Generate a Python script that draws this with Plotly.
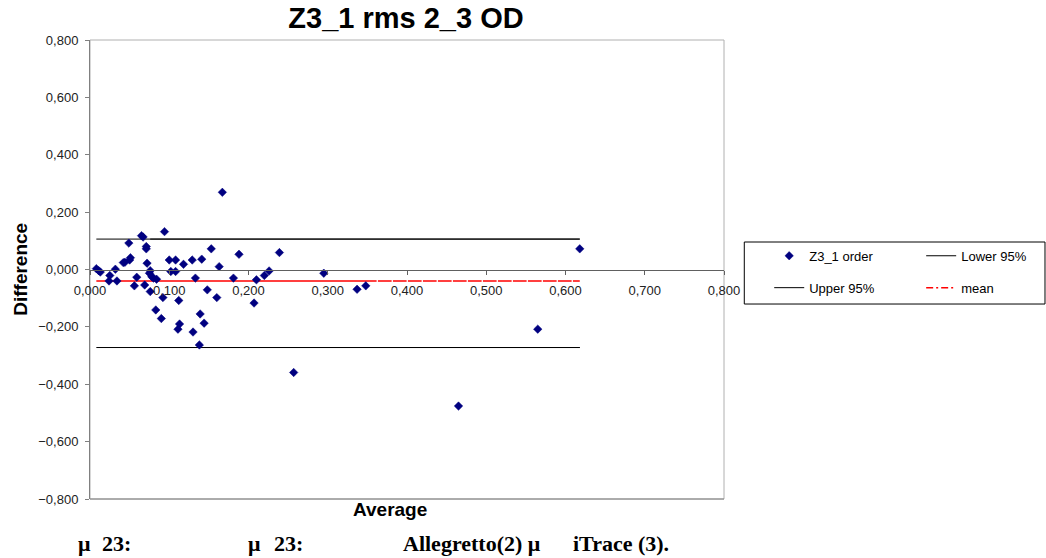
import plotly.graph_objects as go

# Bland-Altman data: mean of the two measurements vs their difference
average = [
    0.008, 0.042, 0.167, 0.011, 0.094, 0.065, 0.295, 0.024, 0.113, 0.049,
    0.013, 0.188, 0.071, 0.130, 0.465, 0.618, 0.565, 0.056, 0.102, 0.025,
    0.139, 0.032, 0.207, 0.076, 0.148, 0.337, 0.034, 0.160, 0.044, 0.092,
    0.111, 0.257, 0.050, 0.181, 0.067, 0.072, 0.129, 0.051, 0.138, 0.059,
    0.220, 0.069, 0.083, 0.348, 0.071, 0.108, 0.075, 0.226, 0.153, 0.078,
    0.090, 0.144, 0.080, 0.239, 0.084, 0.100, 0.133, 0.108, 0.210, 0.112,
    0.118, 0.141, 0.163, 0.076,
]
difference = [
    0.003, 0.024, 0.269, -0.004, 0.132, 0.118, -0.013, -0.040, -0.190, 0.092,
    -0.009, 0.053, 0.080, -0.218, -0.476, 0.072, -0.208, -0.057, -0.007, -0.021,
    -0.155, 0.001, -0.117, -0.077, -0.071, -0.069, -0.040, -0.098, 0.025, -0.098,
    -0.208, -0.359, 0.033, -0.030, 0.113, 0.022, 0.033, 0.041, -0.263, -0.027,
    -0.021, -0.054, -0.141, -0.057, 0.072, 0.033, -0.013, -0.005, 0.072, -0.025,
    -0.171, -0.187, -0.030, 0.059, -0.034, 0.033, -0.030, -0.007, -0.036, -0.108,
    0.018, 0.036, 0.010, -0.004,
]

MEAN_DIFF = -0.040
UPPER_95 = 0.106
LOWER_95 = -0.272

x_ticks = [0.0, 0.1, 0.2, 0.3, 0.4, 0.5, 0.6, 0.7, 0.8]
y_ticks = [-0.8, -0.6, -0.4, -0.2, 0.0, 0.2, 0.4, 0.6, 0.8]

# Reference lines follow the series' own x values, as in a spreadsheet chart
mean_y = [MEAN_DIFF for _ in average]
upper_y = [UPPER_95 for _ in average]
lower_y = [LOWER_95 for _ in average]

SANS = "Liberation Sans, Arial, sans-serif"
SERIF = "Liberation Serif, Times New Roman, serif"

fig = go.Figure()

fig.add_trace(go.Scatter(
    x=average, y=lower_y, mode="lines", name="Lower 95%",
    line=dict(color="black", width=1),
    legend="legend2", legendgroup="lower", legendrank=1,
))
fig.add_trace(go.Scatter(
    x=average, y=upper_y, mode="lines", name="Upper 95%",
    line=dict(color="black", width=1),
    legend="legend", legendgroup="upper", legendrank=2,
))
fig.add_trace(go.Scatter(
    x=average, y=mean_y, mode="lines", name="mean",
    line=dict(color="#ff0000", width=1.5, dash="7px,3px,2px,3px", simplify=False),
    legend="legend2", legendgroup="mean", legendrank=2,
))
fig.add_trace(go.Scatter(
    x=average, y=difference, mode="markers", name="Z3_1 order",
    marker=dict(symbol="diamond", size=6.5, color="#000080",
                line=dict(width=0.5, color="#000080")),
    legend="legend", legendgroup="pts", legendrank=1,
))

# Plot-area frame
fig.add_shape(type="rect", xref="paper", yref="paper", x0=0, y0=0, x1=1, y1=1,
              line=dict(color="#b0b0b0", width=1), layer="below")
fig.add_shape(type="line", xref="paper", yref="paper", x0=0, y0=0, x1=1, y1=0,
              line=dict(color="#808080", width=1))
# Legend box
fig.add_shape(type="rect", xref="paper", yref="paper",
              x0=1.032, y0=0.4248, x1=1.5063, y1=0.5599,
              line=dict(color="black", width=1), fillcolor="white", layer="below")

annotations = [
    dict(text="<b>Difference</b>", x=-0.110, y=0.5, textangle=-90,
         font=dict(family=SANS, size=19, color="black")),
    dict(text="<b>Average</b>", x=0.473, y=-0.022,
         font=dict(family=SANS, size=19, color="black")),
]
caption = [
    ("μ", 76), ("23:", 100), ("μ", 246), ("23:", 272),
    ("Allegretto(2) μ", 401), ("iTrace (3).", 571),
]
for txt, px in caption:
    annotations.append(dict(
        text=f"<b>{txt}</b>", x=(px - 90) / 634, y=-0.098, xanchor="left",
        font=dict(family=SERIF, size=22, color="black"),
    ))
for a in annotations:
    a.setdefault("xref", "paper")
    a.setdefault("yref", "paper")
    a.setdefault("showarrow", False)
    a.setdefault("xanchor", "center")
    a.setdefault("yanchor", "middle")

legend_common = dict(
    bgcolor="rgba(0,0,0,0)", borderwidth=0,
    font=dict(family=SANS, size=13, color="black"),
    traceorder="grouped", tracegroupgap=12,
    xanchor="left", yanchor="top", y=0.5625,
)

fig.update_layout(
    width=1046, height=558,
    margin=dict(l=90, r=322, t=40, b=59),
    paper_bgcolor="white", plot_bgcolor="white",
    separators=",.",
    title=dict(text="<b>Z3_1 rms 2_3 OD</b>", x=(406 - 90) / 634, xref="paper",
               xanchor="center", y=1 - 18 / 558, yanchor="middle",
               font=dict(family=SANS, size=29, color="black")),
    xaxis=dict(
        range=[0, 0.8], tickvals=x_ticks, tickformat=".3f",
        anchor="free", position=0.5,
        showline=True, linecolor="#606060", linewidth=1,
        ticks="outside", ticklen=4, tickcolor="#606060",
        ticklabelstandoff=5,
        showgrid=False, zeroline=False,
        tickfont=dict(family=SANS, size=13, color="#222222"),
    ),
    yaxis=dict(
        range=[-0.8, 0.8], tickvals=y_ticks, tickformat=".3f",
        showline=True, linecolor="#808080", linewidth=1,
        ticks="outside", ticklen=4, tickcolor="#808080",
        ticklabelstandoff=4,
        showgrid=False, zeroline=False,
        tickfont=dict(family=SANS, size=13, color="#222222"),
    ),
    legend=dict(x=1.0713, **legend_common),
    legend2=dict(x=1.311, **legend_common),
    annotations=annotations,
    showlegend=True,
)

fig.write_html("out.html")
